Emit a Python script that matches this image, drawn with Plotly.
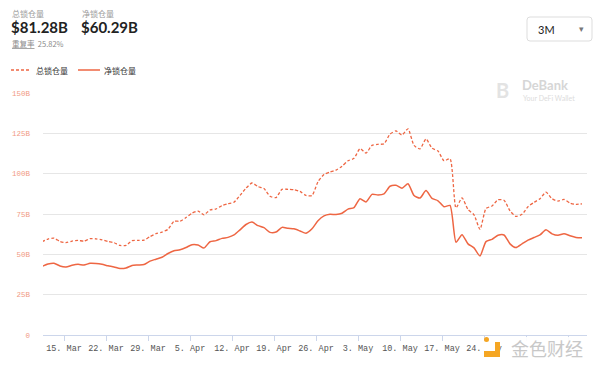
import pandas as pd
import plotly.graph_objects as go

# ---- data (values in billions USD), daily points from 2021-03-11 to 2021-06-09 ----
dates = pd.date_range("2021-03-11 08:00", periods=91, freq="D")

total_locked = [
    57.8, 59.5, 60.0, 58.0, 57.2, 58.2, 58.6, 58.2, 59.7, 59.6,
    59.0, 58.0, 57.2, 55.5, 55.5, 58.5, 58.7, 58.8, 61.0, 62.8,
    63.8, 65.5, 70.5, 70.5, 72.8, 75.5, 76.8, 74.5, 77.5, 78.1,
    80.2, 81.4, 82.3, 86.5, 91.0, 94.2, 92.0, 90.8, 86.0, 85.2,
    90.3, 90.3, 90.0, 89.0, 86.5, 86.5, 95.0, 99.5, 101.0, 102.2,
    104.6, 108.0, 109.5, 115.5, 112.8, 117.5, 118.2, 118.5, 124.5, 126.5,
    124.0, 127.8, 117.5, 115.4, 121.5, 115.8, 114.0, 108.0, 109.3, 78.8,
    85.0, 77.8, 74.5, 65.5, 78.4, 80.0, 83.8, 83.5, 77.0, 73.5,
    74.8, 79.5, 82.2, 84.5, 88.5, 84.5, 83.0, 84.0, 81.8, 81.0,
    81.28,
]

net_locked = [
    42.5, 44.0, 44.5, 42.8, 42.2, 43.2, 43.8, 43.4, 44.4, 44.3,
    43.8, 42.9, 42.2, 41.2, 41.5, 43.1, 43.4, 43.7, 45.8, 47.0,
    48.2, 50.5, 52.2, 52.8, 54.2, 56.0, 55.8, 53.9, 57.8, 58.5,
    59.9, 60.5, 62.0, 65.2, 68.5, 70.0, 67.8, 66.5, 63.6, 63.8,
    66.7, 66.1, 65.8, 64.5, 63.1, 65.8, 70.8, 73.8, 74.8, 74.7,
    75.5, 78.0, 79.0, 84.5, 82.5, 87.2, 86.8, 87.5, 92.2, 92.8,
    91.0, 93.8, 86.5, 84.9, 89.5, 84.7, 83.2, 79.5, 80.3, 57.5,
    62.2, 56.5, 54.0, 49.0, 57.9, 59.3, 61.8, 62.0, 56.5, 54.2,
    56.5, 58.8, 60.4, 62.0, 65.2, 62.7, 61.8, 62.8, 61.5, 60.5,
    60.29,
]

series_names = ["总锁仓量", "净锁仓量"]
x_tick_dates = ["2021-03-15", "2021-03-22", "2021-03-29", "2021-04-05", "2021-04-12",
                "2021-04-19", "2021-04-26", "2021-05-03", "2021-05-10", "2021-05-17",
                "2021-05-24", "2021-05-31", "2021-06-07"]
x_tick_text = ["15. Mar", "22. Mar", "29. Mar", "5. Apr", "12. Apr", "19. Apr", "26. Apr",
               "3. May", "10. May", "17. May", "24. May", "", ""]
y_ticks = [0, 25, 50, 75, 100, 125, 150]
y_tick_text = ["0", "25B", "50B", "75B", "100B", "125B", "150B"]
header_labels = ["总锁仓量", "净锁仓量"]
header_values = ["$81.28B", "$60.29B"]
dup_rate_label = "重复率"
dup_rate_value = "25.82%"
range_option = "3M"

LINE = "#EE6643"
W, H = 600, 369
ML, MR, MT, MB = 43, 13, 93, 34
PW, PH = W - ML - MR, H - MT - MB


def px(x):
    return (x - ML) / PW


def py(y):
    return (H - MB - y) / PH


fig = go.Figure()
fig.add_trace(go.Scatter(
    x=dates, y=total_locked, name=series_names[0], mode="lines",
    line=dict(color=LINE, width=1.3, dash="3px,2px", shape="spline", smoothing=0.6),
    hoverinfo="skip", showlegend=False,
))
fig.add_trace(go.Scatter(
    x=dates, y=net_locked, name=series_names[1], mode="lines",
    line=dict(color=LINE, width=1.5, shape="spline", smoothing=0.6),
    hoverinfo="skip", showlegend=False,
))

shapes = []
annotations = []

# header
hx = [10, 80]
for i in range(2):
    annotations.append(dict(x=px(hx[i]), y=py(13), xref="paper", yref="paper",
                            text=header_labels[i], showarrow=False, xanchor="left", yanchor="middle",
                            font=dict(family="Noto Sans CJK SC", size=8, color="#9a9a9a")))
    annotations.append(dict(x=px(hx[i] - 1), y=py(27), xref="paper", yref="paper",
                            text="<b>" + header_values[i] + "</b>", showarrow=False,
                            xanchor="left", yanchor="middle",
                            font=dict(family="Lato", size=15, color="#222222")))
annotations.append(dict(x=px(10), y=py(43), xref="paper", yref="paper",
                        text="<u>" + dup_rate_label + "</u>  " + dup_rate_value, showarrow=False,
                        xanchor="left", yanchor="middle",
                        font=dict(family="Noto Sans CJK SC", size=7.5, color="#8a8a8a")))

# dropdown
x0, x1, y0, y1, r = 527, 592, 17, 41, 3
path = (f"M {px(x0 + r)} {py(y0)} L {px(x1 - r)} {py(y0)} Q {px(x1)} {py(y0)} {px(x1)} {py(y0 + r)} "
        f"L {px(x1)} {py(y1 - r)} Q {px(x1)} {py(y1)} {px(x1 - r)} {py(y1)} "
        f"L {px(x0 + r)} {py(y1)} Q {px(x0)} {py(y1)} {px(x0)} {py(y1 - r)} "
        f"L {px(x0)} {py(y0 + r)} Q {px(x0)} {py(y0)} {px(x0 + r)} {py(y0)} Z")
shapes.append(dict(type="path", path=path, xref="paper", yref="paper",
                   line=dict(color="#dddddd", width=1), fillcolor="white", layer="above"))
annotations.append(dict(x=px(536), y=py(29), xref="paper", yref="paper", text=range_option,
                        showarrow=False, xanchor="left", yanchor="middle",
                        font=dict(family="Lato", size=11, color="#222222")))
annotations.append(dict(x=px(581), y=py(29), xref="paper", yref="paper", text="▾",
                        showarrow=False, xanchor="center", yanchor="middle",
                        font=dict(family="DejaVu Sans", size=9, color="#777777")))

# legend (manual)
shapes.append(dict(type="line", xref="paper", yref="paper", x0=px(11), x1=px(30), y0=py(70), y1=py(70),
                   line=dict(color=LINE, width=1.3, dash="3px,2px")))
shapes.append(dict(type="line", xref="paper", yref="paper", x0=px(78), x1=px(100), y0=py(70), y1=py(70),
                   line=dict(color=LINE, width=1.5)))
for lx, name in zip([34, 102], series_names):
    annotations.append(dict(x=px(lx), y=py(70), xref="paper", yref="paper", text=name,
                            showarrow=False, xanchor="left", yanchor="middle",
                            font=dict(family="Noto Sans CJK SC", size=8, color="#333333")))

# DeBank watermark
annotations.append(dict(x=px(502), y=py(90), xref="paper", yref="paper", text="<b>B</b>",
                        showarrow=False, xanchor="center", yanchor="middle",
                        font=dict(family="Lato", size=20, color="#e3e3e3")))
annotations.append(dict(x=px(520), y=py(85), xref="paper", yref="paper", text="<b>DeBank</b>",
                        showarrow=False, xanchor="left", yanchor="middle",
                        font=dict(family="Lato", size=13, color="#d6d6d6")))
annotations.append(dict(x=px(521), y=py(98), xref="paper", yref="paper", text="Your DeFi Wallet",
                        showarrow=False, xanchor="left", yanchor="middle",
                        font=dict(family="Lato", size=7, color="#dcdcdc")))

# 金色财经 watermark
shapes.append(dict(type="rect", xref="paper", yref="paper", x0=px(503), x1=px(595), y0=py(337), y1=py(362),
                   fillcolor="rgba(255,255,255,0.92)", line=dict(width=0), layer="above"))
shapes.append(dict(type="rect", xref="paper", yref="paper", x0=px(484), x1=px(500), y0=py(342), y1=py(357),
                   fillcolor="#F5A623", line=dict(width=0), layer="above"))
shapes.append(dict(type="rect", xref="paper", yref="paper", x0=px(484), x1=px(495), y0=py(342), y1=py(351),
                   fillcolor="white", line=dict(width=0), layer="above"))
shapes.append(dict(type="circle", xref="paper", yref="paper", x0=px(484), x1=px(489), y0=py(337), y1=py(342),
                   fillcolor="#F5A623", line=dict(width=0), layer="above"))
annotations.append(dict(x=px(547), y=py(348), xref="paper", yref="paper", text="金色财经",
                        showarrow=False, xanchor="center", yanchor="middle",
                        font=dict(family="Noto Sans CJK SC", size=18, color="#c8c8c8")))

fig.update_layout(
    width=W, height=H,
    margin=dict(l=ML, r=MR, t=MT, b=MB, pad=0),
    paper_bgcolor="white", plot_bgcolor="white",
    showlegend=False,
    shapes=shapes, annotations=annotations,
    xaxis=dict(
        type="date",
        range=["2021-03-11 12:00", "2021-06-10 04:00"],
        tickvals=x_tick_dates, ticktext=x_tick_text,
        showgrid=False, zeroline=False,
        showline=True, linecolor="#ccd6eb", linewidth=1,
        ticks="outside", ticklen=5, tickcolor="#ccd6eb",
        tickfont=dict(family="Liberation Mono", size=8.5, color="#555555"),
    ),
    yaxis=dict(
        range=[0, 150],
        tickvals=y_ticks, ticktext=y_tick_text,
        showgrid=True, gridcolor="#e6e6e6", gridwidth=1,
        zeroline=False, showline=False,
        ticks="", ticklabelstandoff=12,
        tickfont=dict(family="Liberation Mono", size=7.5, color="#F19A85"),
    ),
)

fig.write_html("out.html", config={"displayModeBar": False},
               post_script="document.body.style.margin='0';document.body.style.overflow='hidden';")
